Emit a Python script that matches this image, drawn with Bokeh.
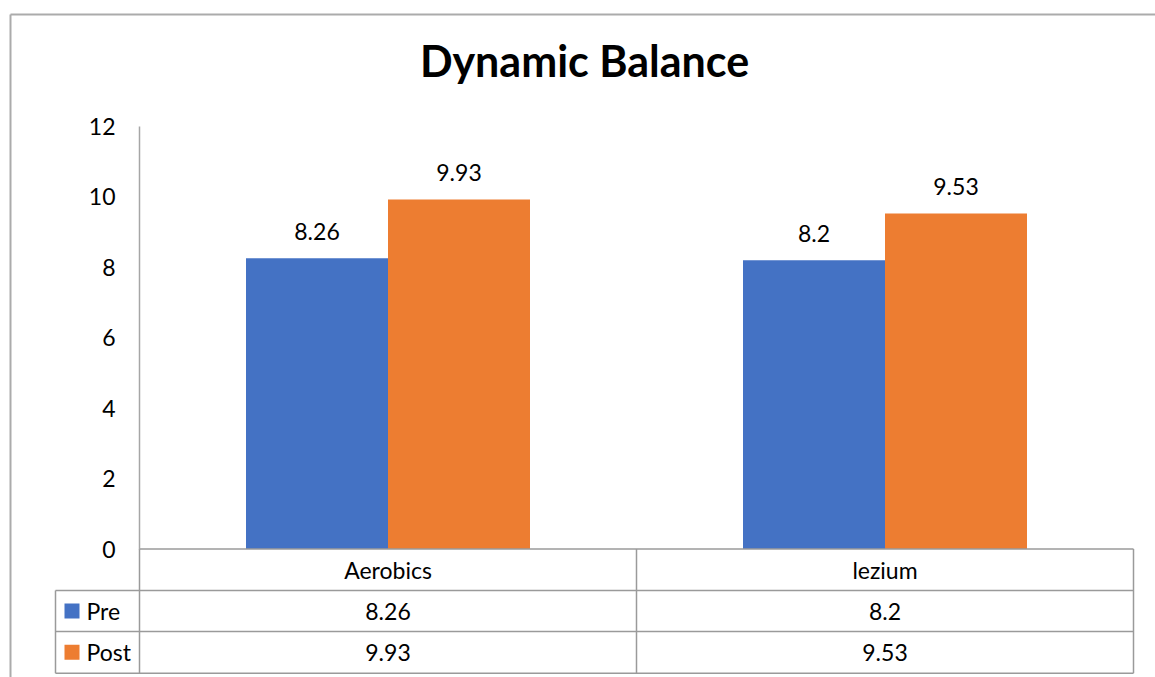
from bokeh.plotting import figure
from bokeh.models import LinearAxis, FixedTicker, ColumnDataSource
from bokeh.core.properties import value
from bokeh.embed import file_html
from bokeh.resources import INLINE

# ---------------- data ----------------
categories = ["Aerobics", "lezium"]
series_names = ["Pre", "Post"]
pre_values = [8.26, 8.2]
post_values = [9.93, 9.53]
y_ticks = [0, 2, 4, 6, 8, 10, 12]
title_text = "Dynamic Balance"

# ---------------- layout (pixels) ----------------
W, H = 1155, 677
AX_L, AX_R = 139, 1133          # plot area left / right
Y0_PX, YTOP_PX = 548.5, 126     # pixel rows of value 0 and value 12
Y_MAX = 12
ROW_PX = [548.5, 590, 631, 672.7]   # table row boundaries
LEG_L = 55                            # legend column left edge
FONT = "Lato"
BLUE, ORANGE = "#4472C4", "#ED7D31"
LINE = "#9a9a9a"

ppx = (AX_R - AX_L) / len(categories)
ppy = (Y0_PX - YTOP_PX) / Y_MAX


def X(px):
    return (px - AX_L) / ppx


def Y(py):
    return (Y0_PX - py) / ppy


p = figure(width=W, height=H, x_range=(X(0), X(W)), y_range=(Y(H), Y(0)),
           x_axis_type=None, y_axis_type=None, output_backend="svg",
           toolbar_location=None, min_border=0, outline_line_color=None,
           background_fill_color="white", border_fill_color="white")

# outer chart frame (left and top edges visible)
p.segment(x0=[X(10), X(10)], y0=[Y(14), Y(14)], x1=[X(10), X(W)], y1=[Y(H), Y(14)],
          line_color="#ababab", line_width=2)

# ---------------- bars ----------------
bw = 1 / 3.5
centers = [i + 0.5 for i in range(len(categories))]
pre_x = [c - bw / 2 for c in centers]
post_x = [c + bw / 2 for c in centers]
p.vbar(x=pre_x, top=pre_values, bottom=0, width=bw, fill_color=BLUE, line_color=None)
p.vbar(x=post_x, top=post_values, bottom=0, width=bw, fill_color=ORANGE, line_color=None)

# data labels
lab_src = ColumnDataSource(dict(
    x=pre_x + post_x,
    y=pre_values + post_values,
    t=[str(v) for v in pre_values + post_values],
))
p.text(x="x", y="y", text="t", source=lab_src, y_offset=-27,
       text_align="center", text_baseline="middle",
       text_font=value(FONT), text_font_size="23px", text_color="black")

# ---------------- y axis ----------------
yax = LinearAxis(fixed_location=0, bounds=(0, Y_MAX),
                 ticker=FixedTicker(ticks=y_ticks),
                 axis_line_color="#a6a6a6", axis_line_width=1.5,
                 major_tick_line_color=None, minor_tick_line_color=None,
                 major_tick_out=0, major_tick_in=0, major_label_standoff=24,
                 major_label_text_font=FONT, major_label_text_font_size="23px",
                 major_label_text_color="black")
p.add_layout(yax, "left")

# ---------------- data table ----------------
n = len(categories)
col_px = [AX_L + k * ppx for k in range(n + 1)]
x0, y0, x1, y1 = [], [], [], []
# header top line (category axis)
x0.append(X(AX_L)); y0.append(Y(ROW_PX[0])); x1.append(X(AX_R)); y1.append(Y(ROW_PX[0]))
# row lines including legend column
for r in ROW_PX[1:]:
    x0.append(X(LEG_L)); y0.append(Y(r)); x1.append(X(AX_R)); y1.append(Y(r))
# column dividers
for c in col_px:
    x0.append(X(c)); y0.append(Y(ROW_PX[0])); x1.append(X(c)); y1.append(Y(ROW_PX[-1]))
# legend column left edge
x0.append(X(LEG_L)); y0.append(Y(ROW_PX[1])); x1.append(X(LEG_L)); y1.append(Y(ROW_PX[-1]))
p.segment(x0=x0, y0=y0, x1=x1, y1=y1, line_color=LINE, line_width=1.5)

row_mid = [Y((ROW_PX[k] + ROW_PX[k + 1]) / 2) for k in range(3)]

# header categories
p.text(x=centers, y=[row_mid[0]] * n, text=categories, text_align="center",
       text_baseline="middle", text_font=value(FONT), text_font_size="23px",
       text_color="black")
# value rows
p.text(x=centers, y=[row_mid[1]] * n, text=[str(v) for v in pre_values],
       text_align="center", text_baseline="middle", text_font=value(FONT),
       text_font_size="23px", text_color="black")
p.text(x=centers, y=[row_mid[2]] * n, text=[str(v) for v in post_values],
       text_align="center", text_baseline="middle", text_font=value(FONT),
       text_font_size="23px", text_color="black")

# legend keys
p.rect(x=[X(71.5)] * 2, y=row_mid[1:], width=15, height=15,
       width_units="screen", height_units="screen",
       fill_color=[BLUE, ORANGE], line_color=None)
p.text(x=[X(86)] * 2, y=row_mid[1:], text=series_names, text_align="left",
       text_baseline="middle", text_font=value(FONT), text_font_size="23px",
       text_color="black")

# ---------------- title ----------------
p.text(x=[X(584)], y=[Y(60)], text=[title_text], text_align="center",
       text_baseline="middle", text_font=value(FONT), text_font_style="bold",
       text_font_size="43px", text_color="black")

open("out.html", "w").write(file_html(p, INLINE))
